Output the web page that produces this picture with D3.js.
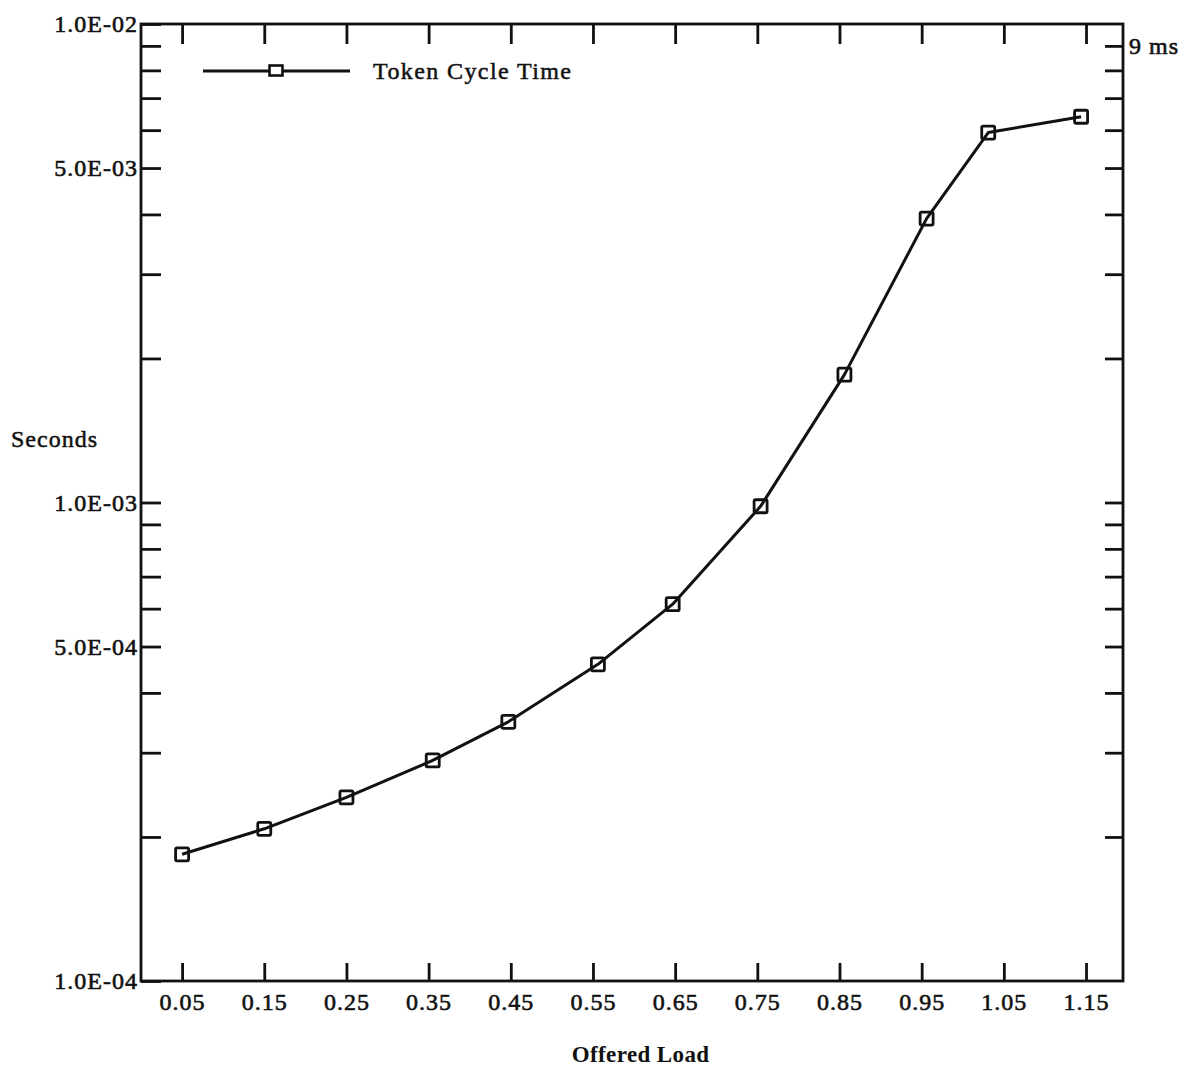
<!DOCTYPE html>
<html>
<head>
<meta charset="utf-8">
<script src="https://cdn.jsdelivr.net/npm/d3@7"></script>
<style>
  body { margin: 0; background: #fff; }
  svg text { font-family: "Liberation Serif", "Times New Roman", serif; fill: #111; }
</style>
</head>
<body>
<div id="chart"></div>
<script>
// offered load (x) and token cycle time in seconds (y)
const loads = [0.05, 0.15, 0.25, 0.355, 0.447, 0.556, 0.647, 0.754, 0.856, 0.956, 1.031, 1.144];
const seconds = [1.84e-4, 2.08e-4, 2.42e-4, 2.89e-4, 3.48e-4, 4.59e-4, 6.13e-4, 9.82e-4, 1.85e-3, 3.92e-3, 5.93e-3, 6.40e-3];

const xTicks = [0.05, 0.15, 0.25, 0.35, 0.45, 0.55, 0.65, 0.75, 0.85, 0.95, 1.05, 1.15];
const xTickLabels = ["0.05", "0.15", "0.25", "0.35", "0.45", "0.55", "0.65", "0.75", "0.85", "0.95", "1.05", "1.15"];
const yLabelTicks = [1e-2, 5e-3, 1e-3, 5e-4, 1e-4];
const yTickLabels = ["1.0E-02", "5.0E-03", "1.0E-03", "5.0E-04", "1.0E-04"];
const rightLabelTick = 9e-3;
const rightLabel = "9 ms";
const seriesName = "Token Cycle Time";

const W = 1186, H = 1070;
const margin = { top: 24, right: 63, bottom: 89, left: 141 };
const width = W - margin.left - margin.right;
const height = H - margin.top - margin.bottom;

const svg = d3.select("#chart").append("svg")
    .attr("width", W)
    .attr("height", H);

const g = svg.append("g")
    .attr("transform", `translate(${margin.left},${margin.top})`);

const x = d3.scaleLinear().domain([0, 1.195]).range([0, width]);
const y = d3.scaleLog().domain([1e-4, 1e-2]).range([height, 0]);

const logTicks = y.ticks();

function styleAxis(sel) {
    sel.select(".domain").remove();
    sel.selectAll(".tick line").attr("stroke", "#111").attr("stroke-width", 2.8);
    sel.selectAll(".tick text")
        .attr("font-size", 24)
        .attr("letter-spacing", "1px")
        .attr("stroke", "#111")
        .attr("stroke-width", 0.6);
}

// bottom axis
g.append("g")
    .attr("transform", `translate(0,${height})`)
    .call(d3.axisBottom(x).tickValues(xTicks).tickSize(-18).tickPadding(12)
        .tickFormat((d, i) => xTickLabels[i]))
    .call(styleAxis);

// top axis, ticks only
g.append("g")
    .call(d3.axisTop(x).tickValues(xTicks).tickSize(-20).tickFormat(""))
    .call(styleAxis);

// left axis
g.append("g")
    .call(d3.axisLeft(y).tickValues(logTicks).tickSize(-20).tickPadding(3)
        .tickFormat(d => {
            const i = yLabelTicks.findIndex(v => Math.abs(v - d) / v < 1e-6);
            return i >= 0 ? yTickLabels[i] : "";
        }))
    .call(styleAxis);

// right axis
g.append("g")
    .attr("transform", `translate(${width},0)`)
    .call(d3.axisRight(y).tickValues(logTicks.filter(d => d > 1e-4 && d < 1e-2))
        .tickSize(-18).tickPadding(6)
        .tickFormat(d => Math.abs(d - rightLabelTick) / d < 1e-6 ? rightLabel : ""))
    .call(styleAxis);

// frame
g.append("rect")
    .attr("width", width)
    .attr("height", height)
    .attr("fill", "none")
    .attr("stroke", "#111")
    .attr("stroke-width", 2.8);

// series line
const pts = loads.map((d, i) => ({ x: d, y: seconds[i] }));
const line = d3.line().x(d => x(d.x)).y(d => y(d.y));

g.append("path")
    .datum(pts)
    .attr("d", line)
    .attr("fill", "none")
    .attr("stroke", "#111")
    .attr("stroke-width", 3)
    .attr("stroke-linejoin", "round");

const sq = 13;
g.selectAll(".marker")
    .data(pts)
    .enter()
    .append("rect")
    .attr("class", "marker")
    .attr("x", d => x(d.x) - sq / 2)
    .attr("y", d => y(d.y) - sq / 2)
    .attr("width", sq)
    .attr("height", sq)
    .attr("rx", 1.5)
    .attr("fill", "none")
    .attr("stroke", "#111")
    .attr("stroke-width", 2.8);

// legend
const legend = svg.append("g").attr("transform", "translate(203,71)");
legend.append("line")
    .attr("x1", 0).attr("x2", 147)
    .attr("stroke", "#111").attr("stroke-width", 3);
legend.append("rect")
    .attr("x", 73 - sq / 2).attr("y", -sq / 2 + 1)
    .attr("width", sq).attr("height", sq - 3)
    .attr("fill", "#fff").attr("stroke", "#111").attr("stroke-width", 2.6);
legend.append("text")
    .attr("x", 170).attr("y", 8)
    .attr("font-size", 24)
    .attr("letter-spacing", "1.4px")
    .attr("stroke", "#111").attr("stroke-width", 0.5)
    .text(seriesName);

// axis titles
svg.append("text")
    .attr("x", 11).attr("y", 447)
    .attr("font-size", 24)
    .attr("letter-spacing", "1px")
    .attr("stroke", "#111").attr("stroke-width", 0.5)
    .text("Seconds");

svg.append("text")
    .attr("x", margin.left + x(0.608))
    .attr("y", 1062)
    .attr("text-anchor", "middle")
    .attr("font-size", 23)
    .attr("font-weight", "bold")
    .attr("letter-spacing", "0.4px")
    .text("Offered Load");
</script>
</body>
</html>
